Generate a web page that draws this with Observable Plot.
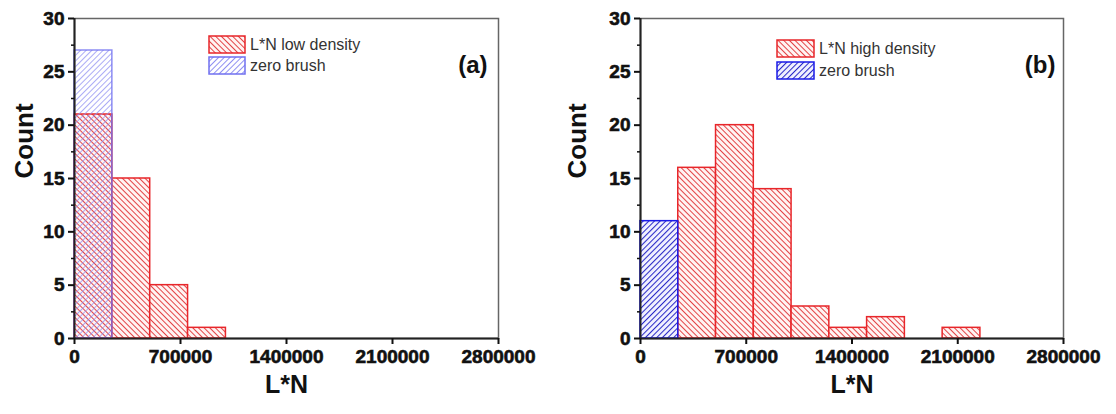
<!DOCTYPE html>
<html>
<head>
<meta charset="utf-8">
<script src="https://cdn.jsdelivr.net/npm/d3@7"></script>
<script src="https://cdn.jsdelivr.net/npm/@observablehq/plot@0.6"></script>
<style>
  html, body { margin: 0; padding: 0; background: #fff; }
  #wrap { position: relative; width: 1116px; height: 414px; display: flex; font-family: "Liberation Sans", Arial, sans-serif; }
  .panel { position: relative; width: 558px; height: 414px; }
  .panel > svg text { font-weight: bold !important; }
  .leg { position: absolute; font-size: 16px; color: #333; line-height: 1; white-space: nowrap; }
  .sw { position: absolute; }
</style>
</head>
<body>
<svg width="0" height="0" style="position:absolute">
  <defs>
    <pattern id="hatchRed" patternUnits="userSpaceOnUse" width="4" height="4" patternTransform="rotate(-45)">
      <rect width="4" height="4" fill="#fff4f3"></rect>
      <line x1="0" y1="0" x2="0" y2="4" stroke="#e23a3c" stroke-width="1.9"></line>
    </pattern>
    <pattern id="hatchBlueLight" patternUnits="userSpaceOnUse" width="4" height="4" patternTransform="rotate(45)">
      <line x1="0" y1="0" x2="0" y2="4" stroke="#8a8af2" stroke-width="1.9"></line>
    </pattern>
    <pattern id="hatchBlueDark" patternUnits="userSpaceOnUse" width="4" height="4" patternTransform="rotate(45)">
      <rect width="4" height="4" fill="#f2f2ff"></rect>
      <line x1="0" y1="0" x2="0" y2="4" stroke="#2b2bc8" stroke-width="2.1"></line>
    </pattern>
  </defs>
</svg>
<div id="wrap">
  <div class="panel" id="pa"></div>
  <div class="panel" id="pb"></div>
</div>
<script>
// ---- data ----
const binEdges = [0, 250000, 500000, 750000, 1000000, 1250000, 1500000, 1750000, 2000000, 2250000];
const lowDensityCounts = [21, 15, 5, 1];
const zeroBrushCountsA = [27];
const highDensityCounts = [0, 16, 20, 14, 3, 1, 2, 0, 1];
const zeroBrushCountsB = [11];
const xTickValues = [0, 700000, 1400000, 2100000, 2800000];
const yTickValues = [0, 5, 10, 15, 20, 25, 30];
const yMinorTicks = [2.5, 7.5, 12.5, 17.5, 22.5, 27.5];
const legendA = ["L*N low density", "zero brush"];
const legendB = ["L*N high density", "zero brush"];
const panelTags = ["(a)", "(b)"];

function bins(counts) {
  return counts.map((c, i) => ({x1: binEdges[i], x2: binEdges[i + 1], y: c})).filter(d => d.y > 0);
}

function panel({barsMarks, marginLeft, marginRight, countDx, tag, tagDx}) {
  return Plot.plot({
    width: 558,
    height: 414,
    marginLeft, marginRight,
    marginTop: 18,
    marginBottom: 76,
    style: {fontFamily: "Liberation Sans, Arial, sans-serif", fontSize: "19px", fontWeight: "bold", color: "#111", background: "transparent"},
    x: {domain: [0, 2800000]},
    y: {domain: [0, 30]},
    marks: [
      Plot.frame({stroke: "#666", strokeWidth: 1.5}),
      ...barsMarks,
      Plot.ruleY([0], {stroke: "#222", strokeWidth: 2}),
      Plot.ruleX([0], {stroke: "#222", strokeWidth: 2}),
      Plot.axisY({ticks: yTickValues, tickSize: 6, tickPadding: 4, strokeWidth: 2, fontSize: 19, fontWeight: "bold", label: null}),
      Plot.axisY({ticks: yMinorTicks, tickSize: 3, strokeWidth: 1.5, tickFormat: () => "", label: null}),
      Plot.axisX({ticks: xTickValues, tickSize: 6, tickPadding: 5, strokeWidth: 2, fontSize: 19, fontWeight: "bold", tickFormat: d3.format("d"), label: null}),
      Plot.text(["L*N"], {frameAnchor: "bottom", dy: 54, fontSize: 25, fontWeight: "bold", fill: "#111"}),
      Plot.text(["Count"], {frameAnchor: "left", dx: countDx, rotate: -90, fontSize: 26, fontWeight: "bold", fill: "#111"}),
      Plot.text([tag], {frameAnchor: "top-right", dx: tagDx, dy: 37, textAnchor: "end", fontSize: 24, fontWeight: "bold", fill: "#111"})
    ]
  });
}

const chartA = panel({
  barsMarks: [
    Plot.rectY(bins(lowDensityCounts), {x1: "x1", x2: "x2", y: "y", fill: "url(#hatchRed)", stroke: "#e8262a", strokeWidth: 1.5}),
    Plot.rectY(bins(zeroBrushCountsA), {x1: "x1", x2: "x2", y: "y", fill: "url(#hatchBlueLight)", fillOpacity: 0.75, stroke: "#7070f0", strokeOpacity: 0.8, strokeWidth: 1.5})
  ],
  marginLeft: 74, marginRight: 60, countDx: -50, tag: panelTags[0], tagDx: -11
});
const chartB = panel({
  barsMarks: [
    Plot.rectY(bins(highDensityCounts), {x1: "x1", x2: "x2", y: "y", fill: "url(#hatchRed)", stroke: "#e8262a", strokeWidth: 1.5}),
    Plot.rectY(bins(zeroBrushCountsB), {x1: "x1", x2: "x2", y: "y", fill: "url(#hatchBlueDark)", stroke: "#1a1ae8", strokeWidth: 1.5})
  ],
  marginLeft: 82, marginRight: 53, countDx: -63, tag: panelTags[1], tagDx: -8
});

for (const c of [chartA, chartB]) {
  c.querySelectorAll("text").forEach(t => {
    t.setAttribute("font-weight", "bold");
    t.style.fontWeight = "bold";
    if (/^\d+$/.test(t.textContent.trim())) {
      t.style.stroke = "#111";
      t.style.strokeWidth = "0.6px";
      t.style.fill = "#111";
    }
  });
}

document.getElementById("pa").appendChild(chartA);
document.getElementById("pb").appendChild(chartB);

function legend(el, labels, left, tops, w, h, textLeft, blueFill, blueStroke) {
  const fills = ["url(#hatchRed)", blueFill];
  const strokes = ["#e8262a", blueStroke];
  labels.forEach((lab, i) => {
    const s = document.createElementNS("http://www.w3.org/2000/svg", "svg");
    s.setAttribute("class", "sw");
    s.setAttribute("width", w); s.setAttribute("height", h);
    s.style.left = left + "px"; s.style.top = tops[i] + "px";
    s.innerHTML = `<rect x="1" y="1" width="${w - 2}" height="${h - 2}" fill="${fills[i]}" stroke="${strokes[i]}" stroke-width="1.5"></rect>`;
    el.appendChild(s);
    const t = document.createElement("div");
    t.className = "leg";
    t.textContent = lab;
    t.style.left = textLeft + "px";
    t.style.top = (tops[i] + h / 2 - 8) + "px";
    el.appendChild(t);
  });
}
legend(document.getElementById("pa"), legendA, 208, [35, 56], 38, 19, 250, "url(#hatchBlueLight)", "#7070f0");
legend(document.getElementById("pb"), legendB, 218, [39, 61], 39, 19, 261, "url(#hatchBlueDark)", "#1a1ae8");
</script>
</body>
</html>
